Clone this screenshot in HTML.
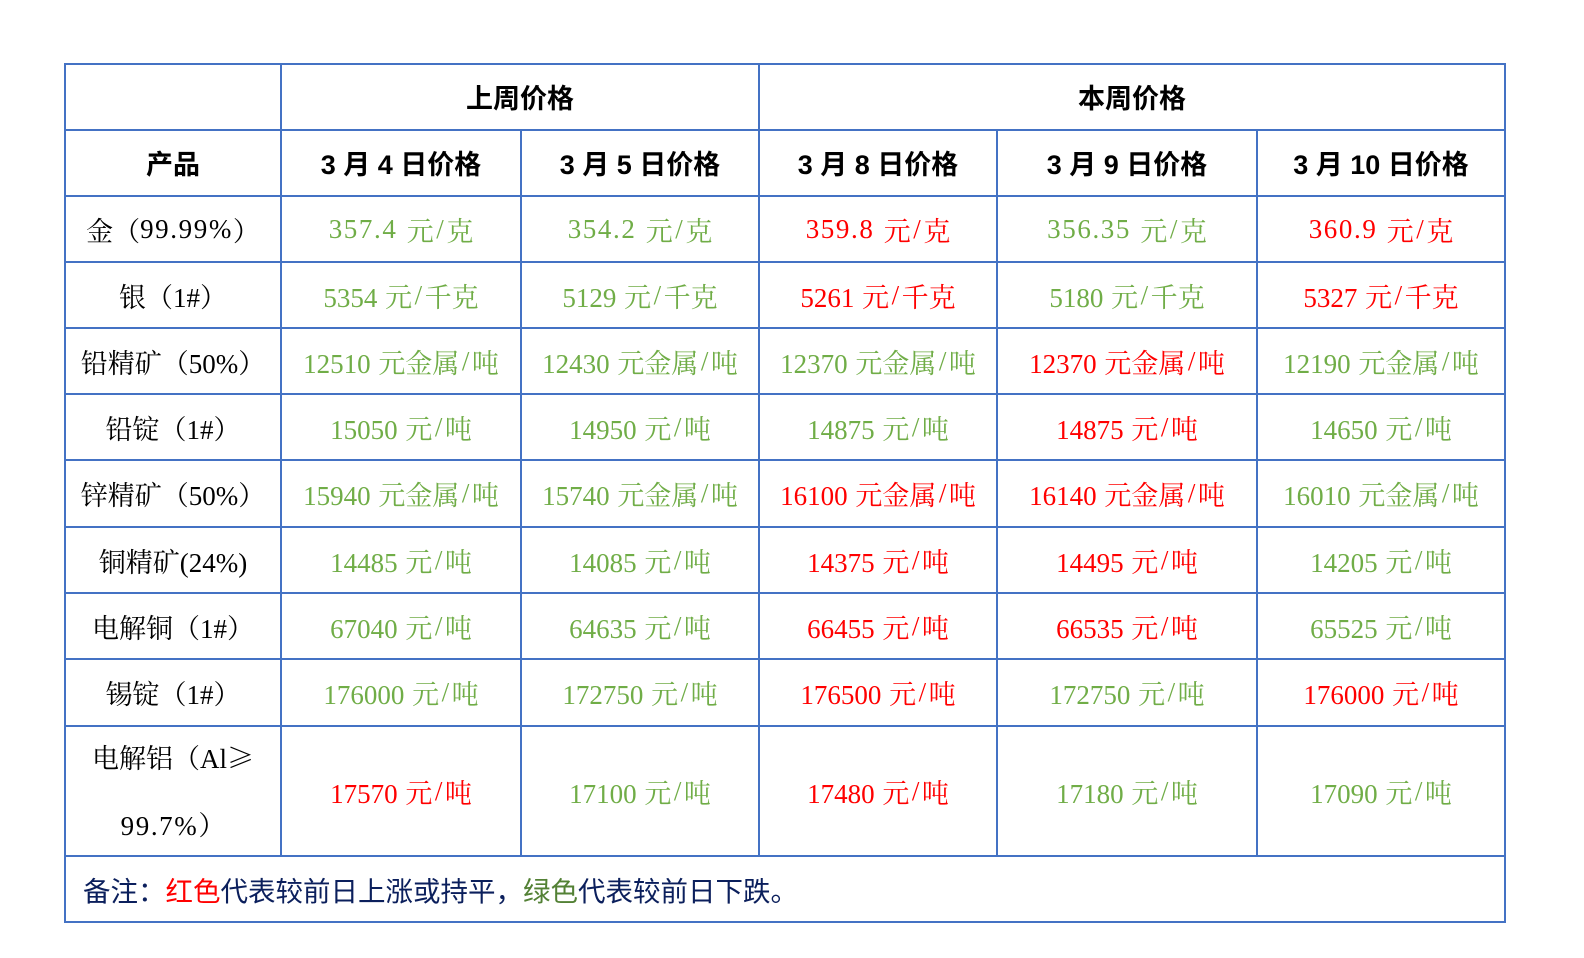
<!DOCTYPE html>
<html><head><meta charset="utf-8">
<style>
html,body{margin:0;padding:0;background:#fff;}
body{width:1584px;height:958px;position:relative;overflow:hidden;}
.h,.v{position:absolute;background:#4472C4;}
.c{position:absolute;display:flex;align-items:center;justify-content:center;text-align:center;white-space:pre;
 font-family:"Liberation Serif","Noto Serif CJK SC",serif;font-size:27px;color:#000;word-spacing:1px;}
.hd{font-family:"Liberation Sans","Noto Sans CJK SC",sans-serif;font-weight:bold;font-size:27px;word-spacing:0;}
.g{color:#70AD47;}
.r{color:#FF0000;}
.s{margin:0 2.5px;}
.w{letter-spacing:1.6px;}
.ge{font-family:"Noto Serif CJK SC",serif;}
.note{position:absolute;left:83px;top:856px;height:66px;display:flex;align-items:center;
 font-family:"Liberation Sans","Noto Sans CJK SC",sans-serif;font-size:27.5px;color:#0B1F5C;white-space:nowrap;}
</style></head><body>

<!-- horizontal lines -->
<div class="h" style="left:64px;top:63px;width:1442px;height:2px"></div>
<div class="h" style="left:64px;top:129px;width:1442px;height:2px"></div>
<div class="h" style="left:64px;top:195px;width:1442px;height:2px"></div>
<div class="h" style="left:64px;top:261px;width:1442px;height:2px"></div>
<div class="h" style="left:64px;top:327px;width:1442px;height:2px"></div>
<div class="h" style="left:64px;top:393px;width:1442px;height:2px"></div>
<div class="h" style="left:64px;top:459px;width:1442px;height:2px"></div>
<div class="h" style="left:64px;top:526px;width:1442px;height:2px"></div>
<div class="h" style="left:64px;top:592px;width:1442px;height:2px"></div>
<div class="h" style="left:64px;top:658px;width:1442px;height:2px"></div>
<div class="h" style="left:64px;top:725px;width:1442px;height:2px"></div>
<div class="h" style="left:64px;top:855px;width:1442px;height:2px"></div>
<div class="h" style="left:64px;top:921px;width:1442px;height:2px"></div>

<!-- vertical lines -->
<div class="v" style="left:64px;top:63px;width:2px;height:860px"></div>
<div class="v" style="left:1504px;top:63px;width:2px;height:860px"></div>
<div class="v" style="left:280px;top:63px;width:2px;height:794px"></div>
<div class="v" style="left:758px;top:63px;width:2px;height:794px"></div>
<div class="v" style="left:520px;top:129px;width:2px;height:728px"></div>
<div class="v" style="left:996px;top:129px;width:2px;height:728px"></div>
<div class="v" style="left:1256px;top:129px;width:2px;height:728px"></div>

<!-- header row 1 -->
<div class="c hd" style="left:281px;top:63px;width:478px;height:66px">上周价格</div>
<div class="c hd" style="left:759px;top:63px;width:746px;height:66px">本周价格</div>

<!-- header row 2 -->
<div class="c hd" style="left:65px;top:129px;width:216px;height:66px">产品</div>
<div class="c hd" style="left:281px;top:129px;width:240px;height:66px">3 月 4 日价格</div>
<div class="c hd" style="left:521px;top:129px;width:238px;height:66px">3 月 5 日价格</div>
<div class="c hd" style="left:759px;top:129px;width:238px;height:66px">3 月 8 日价格</div>
<div class="c hd" style="left:997px;top:129px;width:260px;height:66px">3 月 9 日价格</div>
<div class="c hd" style="left:1257px;top:129px;width:248px;height:66px">3 月 10 日价格</div>

<!-- row 金 -->
<div class="c" style="left:65px;top:196px;width:216px;height:66px">金（<span class="w">99.99%</span>）</div>
<div class="c g" style="left:281px;top:196px;width:240px;height:66px"><span class="w">357.4 </span>元<span class="s">/</span>克</div>
<div class="c g" style="left:521px;top:196px;width:238px;height:66px"><span class="w">354.2 </span>元<span class="s">/</span>克</div>
<div class="c r" style="left:759px;top:196px;width:238px;height:66px"><span class="w">359.8 </span>元<span class="s">/</span>克</div>
<div class="c g" style="left:997px;top:196px;width:260px;height:66px"><span class="w">356.35 </span>元<span class="s">/</span>克</div>
<div class="c r" style="left:1257px;top:196px;width:248px;height:66px"><span class="w">360.9 </span>元<span class="s">/</span>克</div>

<!-- row 银 -->
<div class="c" style="left:65px;top:262px;width:216px;height:66px">银（1#）</div>
<div class="c g" style="left:281px;top:262px;width:240px;height:66px">5354 元<span class="s">/</span>千克</div>
<div class="c g" style="left:521px;top:262px;width:238px;height:66px">5129 元<span class="s">/</span>千克</div>
<div class="c r" style="left:759px;top:262px;width:238px;height:66px">5261 元<span class="s">/</span>千克</div>
<div class="c g" style="left:997px;top:262px;width:260px;height:66px">5180 元<span class="s">/</span>千克</div>
<div class="c r" style="left:1257px;top:262px;width:248px;height:66px">5327 元<span class="s">/</span>千克</div>

<!-- row 铅精矿 -->
<div class="c" style="left:65px;top:328px;width:216px;height:66px">铅精矿（50%）</div>
<div class="c g" style="left:281px;top:328px;width:240px;height:66px">12510 元金属<span class="s">/</span>吨</div>
<div class="c g" style="left:521px;top:328px;width:238px;height:66px">12430 元金属<span class="s">/</span>吨</div>
<div class="c g" style="left:759px;top:328px;width:238px;height:66px">12370 元金属<span class="s">/</span>吨</div>
<div class="c r" style="left:997px;top:328px;width:260px;height:66px">12370 元金属<span class="s">/</span>吨</div>
<div class="c g" style="left:1257px;top:328px;width:248px;height:66px">12190 元金属<span class="s">/</span>吨</div>

<!-- row 铅锭 -->
<div class="c" style="left:65px;top:394px;width:216px;height:66px">铅锭（1#）</div>
<div class="c g" style="left:281px;top:394px;width:240px;height:66px">15050 元<span class="s">/</span>吨</div>
<div class="c g" style="left:521px;top:394px;width:238px;height:66px">14950 元<span class="s">/</span>吨</div>
<div class="c g" style="left:759px;top:394px;width:238px;height:66px">14875 元<span class="s">/</span>吨</div>
<div class="c r" style="left:997px;top:394px;width:260px;height:66px">14875 元<span class="s">/</span>吨</div>
<div class="c g" style="left:1257px;top:394px;width:248px;height:66px">14650 元<span class="s">/</span>吨</div>

<!-- row 锌精矿 -->
<div class="c" style="left:65px;top:460px;width:216px;height:67px">锌精矿（50%）</div>
<div class="c g" style="left:281px;top:460px;width:240px;height:67px">15940 元金属<span class="s">/</span>吨</div>
<div class="c g" style="left:521px;top:460px;width:238px;height:67px">15740 元金属<span class="s">/</span>吨</div>
<div class="c r" style="left:759px;top:460px;width:238px;height:67px">16100 元金属<span class="s">/</span>吨</div>
<div class="c r" style="left:997px;top:460px;width:260px;height:67px">16140 元金属<span class="s">/</span>吨</div>
<div class="c g" style="left:1257px;top:460px;width:248px;height:67px">16010 元金属<span class="s">/</span>吨</div>

<!-- row 铜精矿 -->
<div class="c" style="left:65px;top:527px;width:216px;height:66px">铜精矿(24%)</div>
<div class="c g" style="left:281px;top:527px;width:240px;height:66px">14485 元<span class="s">/</span>吨</div>
<div class="c g" style="left:521px;top:527px;width:238px;height:66px">14085 元<span class="s">/</span>吨</div>
<div class="c r" style="left:759px;top:527px;width:238px;height:66px">14375 元<span class="s">/</span>吨</div>
<div class="c r" style="left:997px;top:527px;width:260px;height:66px">14495 元<span class="s">/</span>吨</div>
<div class="c g" style="left:1257px;top:527px;width:248px;height:66px">14205 元<span class="s">/</span>吨</div>

<!-- row 电解铜 -->
<div class="c" style="left:65px;top:593px;width:216px;height:66px">电解铜（1#）</div>
<div class="c g" style="left:281px;top:593px;width:240px;height:66px">67040 元<span class="s">/</span>吨</div>
<div class="c g" style="left:521px;top:593px;width:238px;height:66px">64635 元<span class="s">/</span>吨</div>
<div class="c r" style="left:759px;top:593px;width:238px;height:66px">66455 元<span class="s">/</span>吨</div>
<div class="c r" style="left:997px;top:593px;width:260px;height:66px">66535 元<span class="s">/</span>吨</div>
<div class="c g" style="left:1257px;top:593px;width:248px;height:66px">65525 元<span class="s">/</span>吨</div>

<!-- row 锡锭 -->
<div class="c" style="left:65px;top:659px;width:216px;height:67px">锡锭（1#）</div>
<div class="c g" style="left:281px;top:659px;width:240px;height:67px">176000 元<span class="s">/</span>吨</div>
<div class="c g" style="left:521px;top:659px;width:238px;height:67px">172750 元<span class="s">/</span>吨</div>
<div class="c r" style="left:759px;top:659px;width:238px;height:67px">176500 元<span class="s">/</span>吨</div>
<div class="c g" style="left:997px;top:659px;width:260px;height:67px">172750 元<span class="s">/</span>吨</div>
<div class="c r" style="left:1257px;top:659px;width:248px;height:67px">176000 元<span class="s">/</span>吨</div>

<!-- row 电解铝 -->
<div class="c" style="left:65px;top:726px;width:216px;height:130px;flex-direction:column;line-height:67px;"><div>电解铝（Al<span class="ge">≥</span></div><div><span class="w">99.7%</span>）</div></div>
<div class="c r" style="left:281px;top:726px;width:240px;height:130px">17570 元<span class="s">/</span>吨</div>
<div class="c g" style="left:521px;top:726px;width:238px;height:130px">17100 元<span class="s">/</span>吨</div>
<div class="c r" style="left:759px;top:726px;width:238px;height:130px">17480 元<span class="s">/</span>吨</div>
<div class="c g" style="left:997px;top:726px;width:260px;height:130px">17180 元<span class="s">/</span>吨</div>
<div class="c g" style="left:1257px;top:726px;width:248px;height:130px">17090 元<span class="s">/</span>吨</div>

<!-- note -->
<div class="note">备注：<span style="color:#FF0000">红色</span>代表较前日上涨或持平，<span style="color:#538135">绿色</span>代表较前日下跌。</div>

</body></html>
